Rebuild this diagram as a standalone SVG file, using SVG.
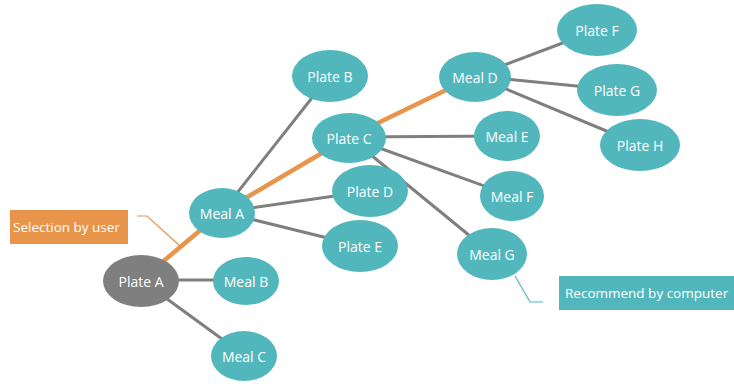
<svg xmlns="http://www.w3.org/2000/svg" width="734" height="384" viewBox="0 0 734 384">
<style>
.n{fill:#52b7bc}
.g{fill:#7f7f7f}
.t{font-family:"Open Sans","DejaVu Sans",sans-serif;font-size:14px;fill:#ffffff;text-anchor:middle;dominant-baseline:central}
.l{text-anchor:start;font-size:13.5px}
.e{stroke:#7f7f7f;stroke-width:3;fill:none}
.o{stroke:#e8944b;stroke-width:4.5;fill:none}
</style>
<rect width="734" height="384" fill="#ffffff"/>
<g id="connectors">
<line class="e" x1="141" y1="280" x2="246" y2="280"/>
<line class="e" x1="141" y1="280" x2="244" y2="355"/>
<line class="e" x1="222" y1="212" x2="330" y2="75"/>
<line class="e" x1="222" y1="212" x2="370" y2="191"/>
<line class="e" x1="222" y1="212" x2="360" y2="246"/>
<line class="e" x1="349" y1="137" x2="507" y2="136"/>
<line class="e" x1="349" y1="137" x2="512" y2="196"/>
<line class="e" x1="349" y1="137" x2="492" y2="254"/>
<line class="e" x1="475" y1="76" x2="597" y2="30"/>
<line class="e" x1="475" y1="76" x2="617" y2="90"/>
<line class="e" x1="475" y1="76" x2="640" y2="145"/>
<line class="o" x1="141" y1="280" x2="222" y2="212"/>
<line class="o" x1="222" y1="212" x2="349" y2="137"/>
<line class="o" x1="349" y1="137" x2="475" y2="76"/>
<polyline points="137,216 147,216 180,246" fill="none" stroke="#e8944b" stroke-width="1.2"/>
<polyline points="515,276 530,302 543,302" fill="none" stroke="#52b7bc" stroke-width="1.2"/>
</g>
<g id="plateA"><ellipse class="g" cx="141" cy="281" rx="38" ry="26"/><text class="t" x="141" y="281">Plate A</text></g>
<g id="mealA"><ellipse class="n" cx="222" cy="213" rx="33" ry="25"/><text class="t" x="222" y="213">Meal A</text></g>
<g id="mealB"><ellipse class="n" cx="246" cy="281" rx="33" ry="24"/><text class="t" x="246" y="281">Meal B</text></g>
<g id="mealC"><ellipse class="n" cx="244" cy="356" rx="33" ry="25"/><text class="t" x="244" y="356">Meal C</text></g>
<g id="plateB"><ellipse class="n" cx="330" cy="76" rx="38" ry="26"/><text class="t" x="330" y="76">Plate B</text></g>
<g id="plateC"><ellipse class="n" cx="349" cy="138" rx="37" ry="25"/><text class="t" x="349" y="138">Plate C</text></g>
<g id="plateD"><ellipse class="n" cx="370" cy="191" rx="38" ry="26"/><text class="t" x="370" y="191">Plate D</text></g>
<g id="plateE"><ellipse class="n" cx="360" cy="246" rx="38" ry="26"/><text class="t" x="360" y="246">Plate E</text></g>
<g id="mealD"><ellipse class="n" cx="475" cy="77" rx="36" ry="25"/><text class="t" x="475" y="77">Meal D</text></g>
<g id="mealE"><ellipse class="n" cx="507" cy="136" rx="33" ry="25"/><text class="t" x="507" y="136">Meal E</text></g>
<g id="mealF"><ellipse class="n" cx="512" cy="196" rx="32" ry="25"/><text class="t" x="512" y="196">Meal F</text></g>
<g id="mealG"><ellipse class="n" cx="492" cy="254" rx="35" ry="26"/><text class="t" x="492" y="254">Meal G</text></g>
<g id="plateF"><ellipse class="n" cx="597" cy="30" rx="40" ry="26"/><text class="t" x="597" y="30">Plate F</text></g>
<g id="plateG"><ellipse class="n" cx="617" cy="90" rx="40" ry="26"/><text class="t" x="617" y="90">Plate G</text></g>
<g id="plateH"><ellipse class="n" cx="640" cy="145" rx="40" ry="26"/><text class="t" x="640" y="145">Plate H</text></g>
<g id="labelUser"><rect x="10" y="210" width="118" height="34" fill="#e8944b"/><text class="t l" x="13" y="227">Selection by user</text></g>
<g id="labelComputer"><rect x="559" y="276" width="175" height="34" fill="#52b7bc"/><text class="t l" x="565" y="293">Recommend by computer</text></g>
</svg>
